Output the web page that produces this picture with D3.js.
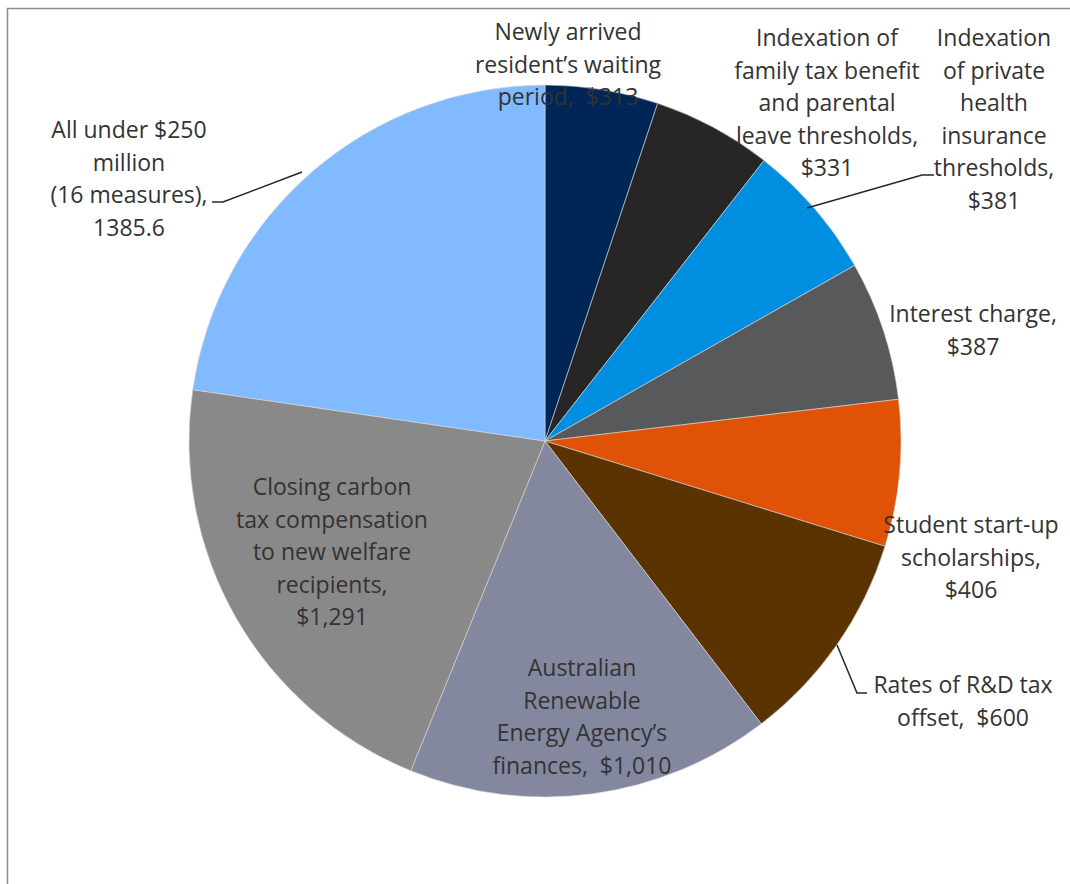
<!DOCTYPE html>
<html><head><meta charset="utf-8">
<script src="https://cdn.jsdelivr.net/npm/d3@7"></script>
<style>body{margin:0;background:#fff}svg{display:block}text{white-space:pre}</style>
</head><body>
<svg id="c" width="1070" height="884"></svg>
<script>
const categories = [
  "Newly arrived resident’s waiting period",
  "Indexation of family tax benefit and parental leave thresholds",
  "Indexation of private health insurance thresholds",
  "Interest charge",
  "Student start-up scholarships",
  "Rates of R&D tax offset",
  "Australian Renewable Energy Agency’s finances",
  "Closing carbon tax compensation to new welfare recipients",
  "All under $250 million (16 measures)"
];
const values = [313, 331, 381, 387, 406, 600, 1010, 1291, 1385.6];
const colors = ["#002657", "#262626", "#008FE0", "#58595B", "#E05206", "#5B3300", "#83889F", "#898989", "#82BAFF"];
const labelLines = [
  ["Newly arrived", "resident’s waiting", "period,  $313"],
  ["Indexation of", "family tax benefit", "and parental", "leave thresholds,", "$331"],
  ["Indexation", "of private", "health", "insurance", "thresholds,", "$381"],
  ["Interest charge,", "$387"],
  ["Student start-up", "scholarships,", "$406"],
  ["Rates of R&D tax", "offset,  $600"],
  ["Australian", "Renewable", "Energy Agency’s", "finances,  $1,010"],
  ["Closing carbon", "tax compensation", "to new welfare", "recipients,", "$1,291"],
  ["All under $250", "million", "(16 measures),", "1385.6"]
];
// label anchor positions (centre x, first line centre y) and leader lines
const labelPos = [[568,32],[827,38],[994,38],[973,314],[971,525],[963,685],[582,668],[332,487],[129,130]];
const leaders = {2:[[807,208],[922,175],[934,175]], 5:[[837,645],[857,693],[867,693]], 8:[[302,172],[223,202],[212,202]]};

const svg = d3.select("#c");
svg.append("rect").attr("x",7.5).attr("y",8.5).attr("width",1080).attr("height",900)
  .attr("fill","none").attr("stroke","#8c8c8c").attr("stroke-width",1.5);

const cx = 545, cy = 441, r = 356;
const pie = d3.pie().sort(null).value(d=>d);
const arc = d3.arc().innerRadius(0).outerRadius(r);
const g = svg.append("g").attr("transform",`translate(${cx},${cy})`);
g.selectAll("path").data(pie(values)).join("path")
  .attr("d",arc).attr("fill",(d,i)=>colors[i])
  .attr("stroke","#d9d9d9").attr("stroke-width",0.6);

const line = d3.line();
Object.entries(leaders).forEach(([k,pts])=>{
  svg.append("path").attr("d",line(pts)).attr("fill","none").attr("stroke","#262626").attr("stroke-width",1.5);
});

const lh = 32.6;
labelLines.forEach((lines,i)=>{
  const t = svg.append("text").attr("text-anchor","middle")
    .attr("font-family","'Open Sans', sans-serif").attr("font-size",23).attr("fill","#333");
  lines.forEach((s,j)=>{
    t.append("tspan").attr("x",labelPos[i][0]).attr("y",labelPos[i][1]+j*lh).attr("dy","0.35em").text(s);
  });
});
</script>
</body></html>
